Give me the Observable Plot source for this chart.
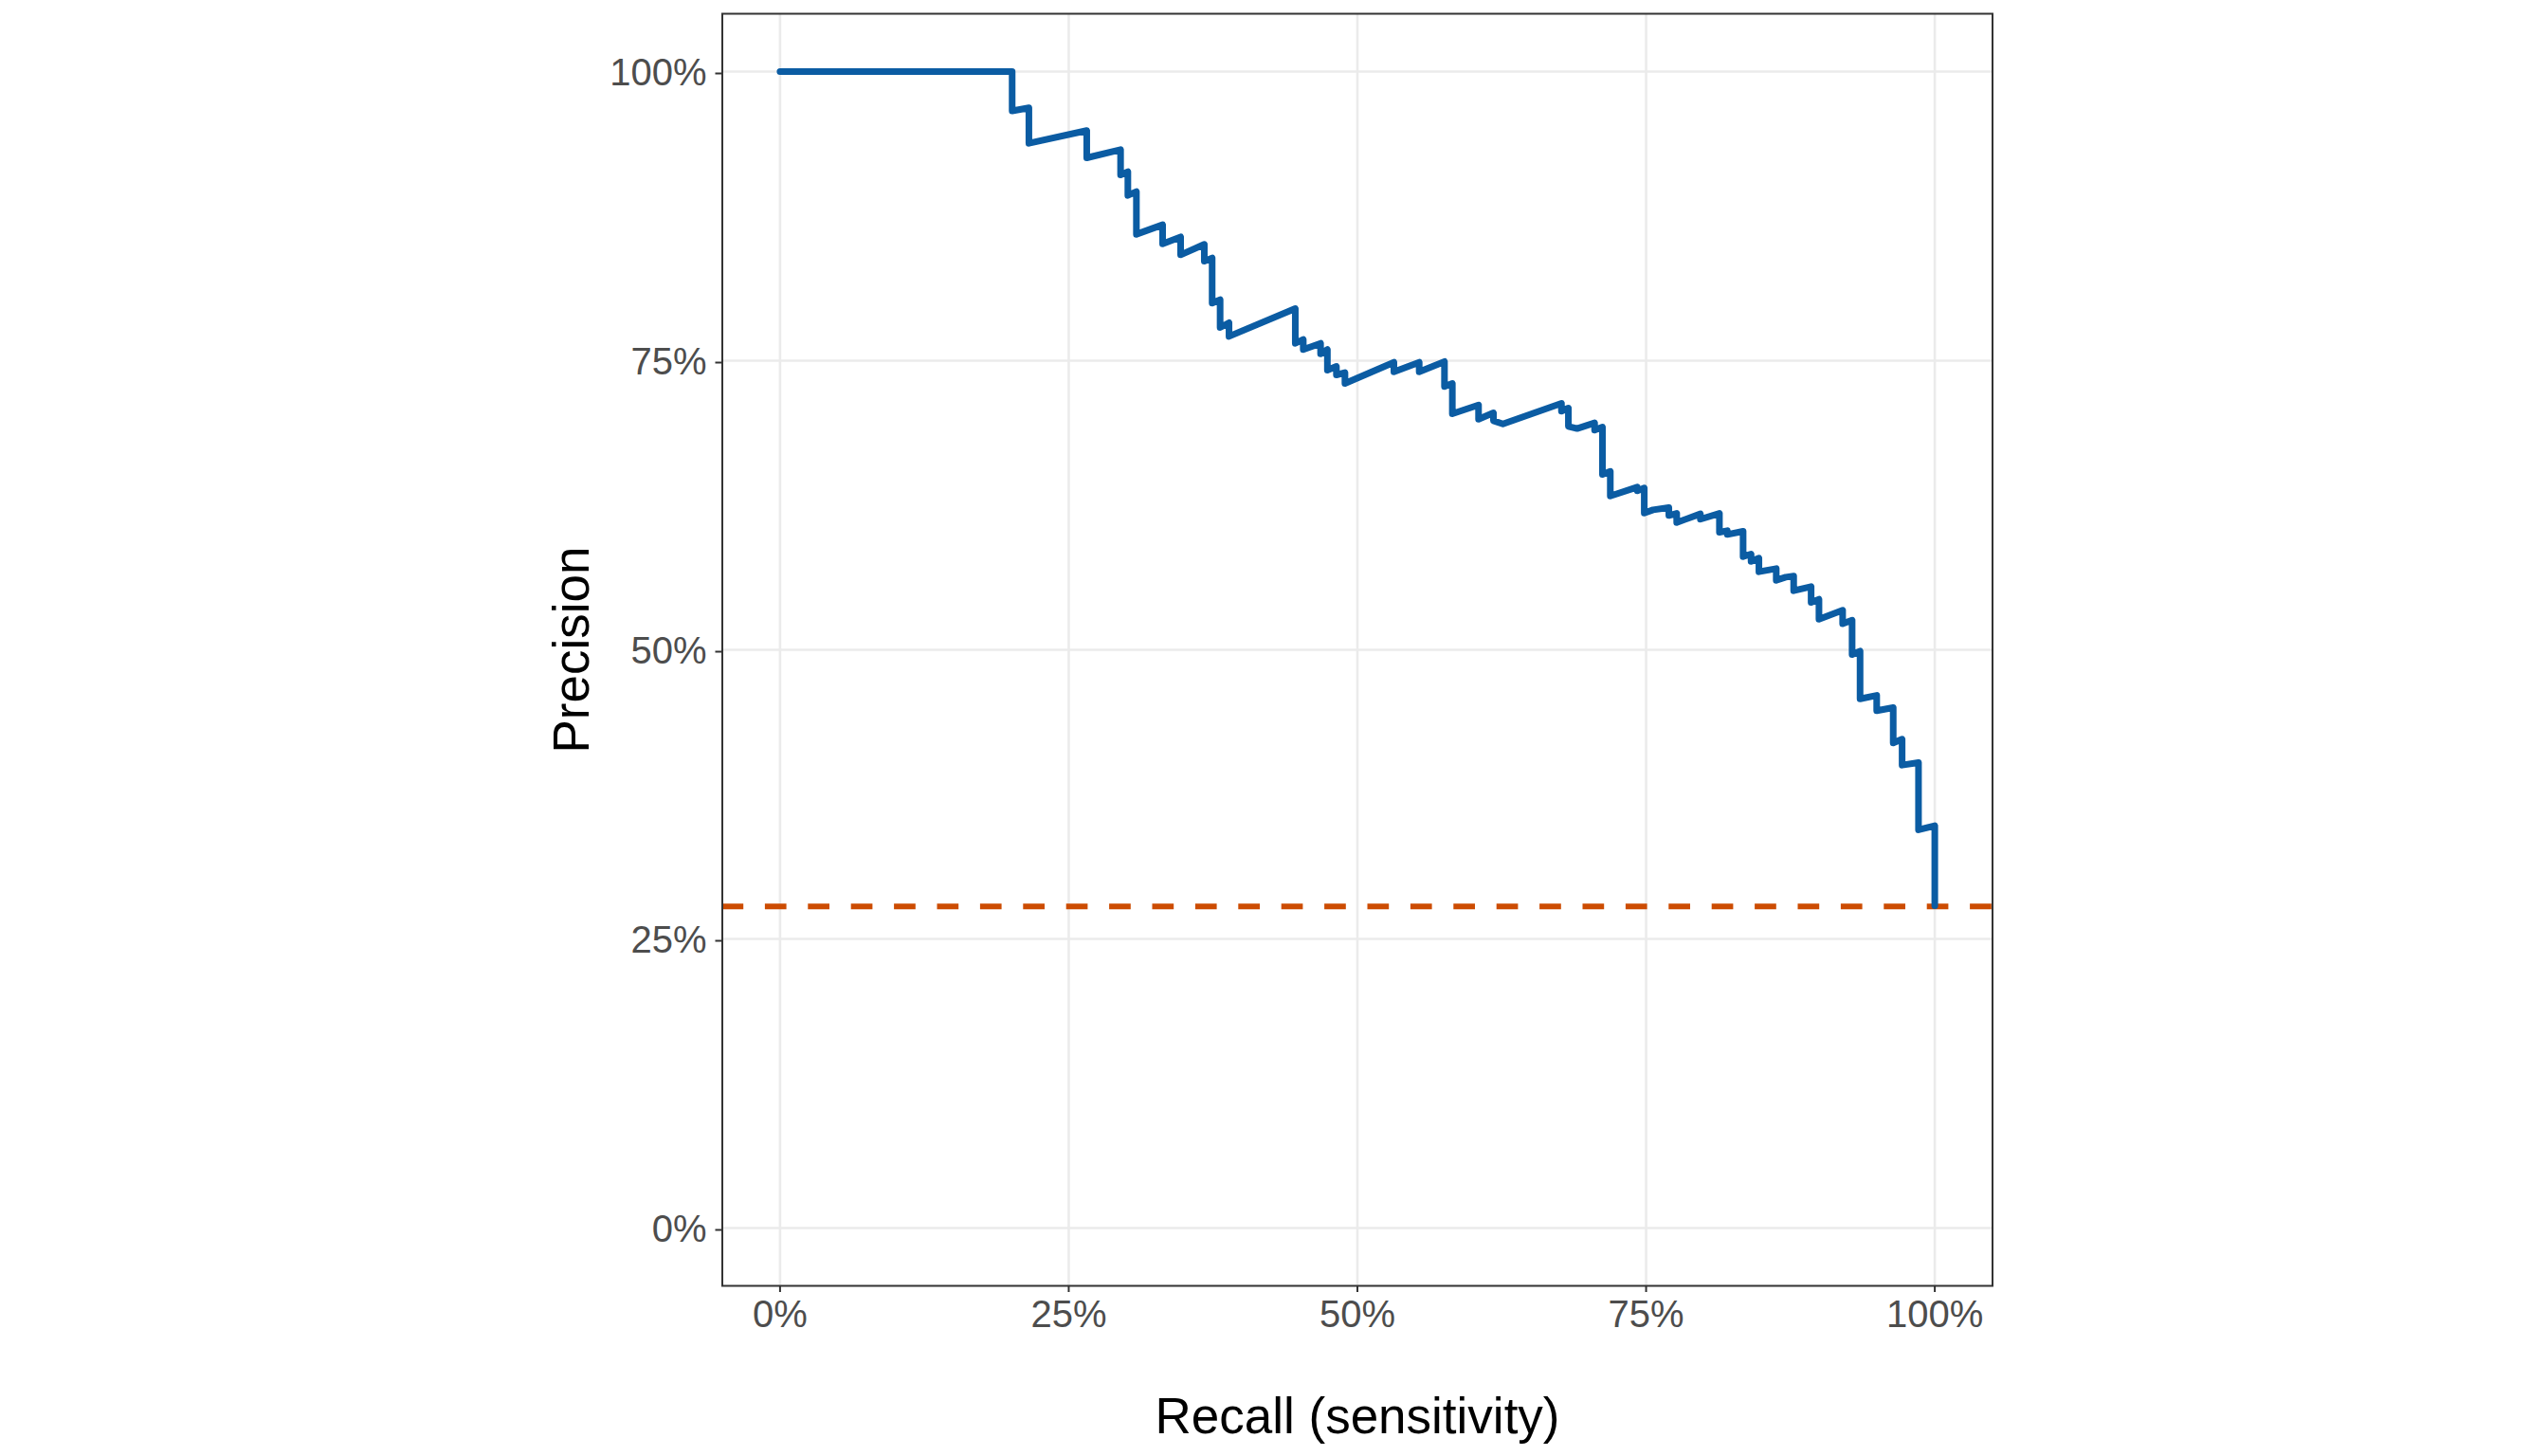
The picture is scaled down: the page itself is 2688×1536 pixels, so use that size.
<!DOCTYPE html>
<html>
<head>
<meta charset="utf-8">
<script src="https://cdn.jsdelivr.net/npm/d3@7"></script>
<script src="https://cdn.jsdelivr.net/npm/@observablehq/plot@0.6"></script>
<style>
  html, body { margin: 0; padding: 0; background: white; }
</style>
</head>
<body>
<script>
// Precision–recall curve vertices
const recall = [
  0, 0.201, 0.201, 0.2155, 0.2155, 0.2656, 0.2656, 0.2949, 0.2949, 0.3012,
  0.3012, 0.3086, 0.3086, 0.3313, 0.3313, 0.3469, 0.3469, 0.3674, 0.3674, 0.3742,
  0.3742, 0.3811, 0.3811, 0.3888, 0.3888, 0.4462, 0.4462, 0.4531, 0.4531, 0.4681,
  0.4681, 0.474, 0.474, 0.4818, 0.4818, 0.4892, 0.4892, 0.5316, 0.5316, 0.5535,
  0.5535, 0.5754, 0.5754, 0.5822, 0.5822, 0.6049, 0.6049, 0.6178, 0.6178, 0.626,
  0.6767, 0.6767, 0.6827, 0.6827, 0.6903, 0.7054, 0.7054, 0.7122, 0.7122, 0.719,
  0.719, 0.7424, 0.7424, 0.7484, 0.7484, 0.756, 0.7697, 0.7697, 0.7765, 0.7765,
  0.797, 0.797, 0.8135, 0.8135, 0.8203, 0.8203, 0.834, 0.834, 0.8409, 0.8409,
  0.8477, 0.8477, 0.8627, 0.8627, 0.8709, 0.8778, 0.8778, 0.8929, 0.8929, 0.8997,
  0.8997, 0.9202, 0.9202, 0.9284, 0.9284, 0.9353, 0.9353, 0.9497, 0.9497, 0.964,
  0.964, 0.9717, 0.9717, 0.9859, 0.9859, 1.0, 1.0
];
const precision = [
  1, 1, 0.966, 0.9686, 0.938, 0.949, 0.9254, 0.9325, 0.9107, 0.9134,
  0.8929, 0.8962, 0.8593, 0.8675, 0.851, 0.857, 0.8415, 0.8506, 0.836, 0.8388,
  0.7998, 0.8027, 0.7787, 0.7828, 0.771, 0.795, 0.765, 0.7683, 0.7596, 0.765,
  0.756, 0.7596, 0.7418, 0.745, 0.7377, 0.7396, 0.7303, 0.7486, 0.7404, 0.7486,
  0.7404, 0.7492, 0.7276, 0.7303, 0.7041, 0.7117, 0.6994, 0.7049, 0.6981, 0.6953,
  0.7131, 0.7063, 0.709, 0.6932, 0.6913, 0.6962, 0.6899, 0.6926, 0.6516, 0.6543,
  0.633, 0.6407, 0.6374, 0.6399, 0.6183, 0.621, 0.623, 0.6161, 0.618, 0.6101,
  0.6175, 0.6129, 0.618, 0.6016, 0.603, 0.5997, 0.6025, 0.5806, 0.5828, 0.5765,
  0.5792, 0.5675, 0.5702, 0.5601, 0.5628, 0.5637, 0.5511, 0.5546, 0.541, 0.5437,
  0.5265, 0.5342, 0.5225, 0.5256, 0.4959, 0.4989, 0.4576, 0.4606, 0.4473, 0.45,
  0.4194, 0.4227, 0.4003, 0.4025, 0.3443, 0.3478, 0.2787
];
const baseline = [0.278];          // dashed reference line (positive rate)
const xTicks = [0, 0.25, 0.5, 0.75, 1];
const yTicks = [0, 0.25, 0.5, 0.75, 1];
const xTitle = "Recall (sensitivity)";
const yTitle = "Precision";

const curve = recall.map((r, i) => ({recall: r, precision: precision[i]}));
const pct = d => `${Math.round(d * 100)}%`;

const chart = Plot.plot({
  width: 2688,
  height: 1536,
  marginLeft: 761.5,
  marginRight: 586.5,
  marginTop: 14,
  marginBottom: 180,
  x: {domain: [-0.05, 1.05]},
  y: {domain: [-0.05, 1.05]},
  style: {fontFamily: "'Liberation Sans', Arial, sans-serif", background: "white", color: "#4D4D4D"},
  marks: [
    Plot.gridX(xTicks, {stroke: "#EBEBEB", strokeOpacity: 1, strokeWidth: 2.6}),
    Plot.gridY(yTicks, {stroke: "#EBEBEB", strokeOpacity: 1, strokeWidth: 2.6}),
    Plot.ruleY(baseline, {stroke: "#CC4C02", strokeWidth: 6, strokeDasharray: "22.7,22.7"}),
    Plot.line(curve, {x: "recall", y: "precision", stroke: "#0B5CA3", strokeWidth: 7, strokeLinejoin: "round"}),
    Plot.frame({stroke: "#333333", strokeWidth: 2}),
    Plot.axisX(xTicks, {tickFormat: pct, tickSize: 7, tickPadding: 8, fontSize: 40,
      stroke: "#333333", strokeWidth: 2, fill: "#4D4D4D", label: null}),
    Plot.axisY(yTicks, {tickFormat: pct, tickSize: 7, tickPadding: 9.5, fontSize: 40, dy: 2,
      stroke: "#333333", strokeWidth: 2, fill: "#4D4D4D", label: null}),
    Plot.text([xTitle], {text: d => d, frameAnchor: "bottom", dy: 139, fontSize: 53, fill: "black",
      textAnchor: "middle", lineAnchor: "middle"}),
    Plot.text([yTitle], {text: d => d, frameAnchor: "left", dx: -157.5, rotate: -90, fontSize: 53, fill: "black",
      textAnchor: "middle", lineAnchor: "middle"})
  ]
});
document.body.appendChild(chart);
</script>
</body>
</html>
